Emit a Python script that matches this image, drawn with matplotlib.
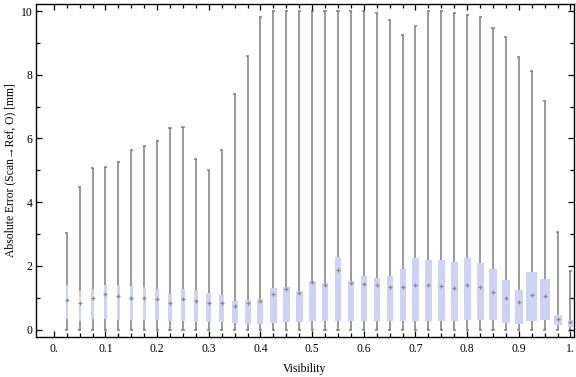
"""Box-whisker chart of absolute error versus visibility."""

import matplotlib
matplotlib.use("Agg")
import matplotlib.pyplot as plt
import numpy as np

# visibility bins (box centres)
visibility = [0.025 * k for k in range(1, 41)]

# whisker ends (clipped at 10 mm in the original chart)
whisker_low = [0.0] * 40
whisker_high = [
    3.03, 4.47, 5.07, 5.10, 5.26, 5.63, 5.75, 5.92, 6.33, 6.36,
    5.35, 5.00, 5.65, 7.39, 8.58, 9.80, 10.0, 10.0, 10.0, 10.0,
    10.0, 10.0, 10.0, 10.0, 9.93, 9.71, 9.24, 9.52, 10.0, 10.0,
    9.95, 9.86, 9.80, 9.46, 9.17, 8.55, 8.11, 7.17, 3.06, 1.84,
]
q1 = [
    0.35, 0.26, 0.35, 0.33, 0.29, 0.29, 0.29, 0.32, 0.26, 0.26,
    0.23, 0.23, 0.23, 0.20, 0.17, 0.17, 0.20, 0.23, 0.23, 0.26,
    0.26, 0.26, 0.26, 0.26, 0.26, 0.26, 0.26, 0.26, 0.26, 0.26,
    0.26, 0.32, 0.32, 0.29, 0.20, 0.17, 0.26, 0.32, 0.14, 0.07,
]
median = [
    0.93, 0.84, 0.99, 1.13, 1.05, 0.99, 0.99, 0.95, 0.84, 0.95,
    0.91, 0.85, 0.85, 0.75, 0.84, 0.89, 1.12, 1.27, 1.15, 1.49,
    1.41, 1.86, 1.45, 1.42, 1.40, 1.34, 1.34, 1.39, 1.40, 1.36,
    1.32, 1.41, 1.34, 1.18, 1.00, 0.87, 1.09, 1.07, 0.35, 0.23,
]
q3 = [
    1.41, 1.20, 1.29, 1.41, 1.41, 1.38, 1.35, 1.29, 1.13, 1.29,
    1.25, 1.16, 1.10, 0.91, 0.94, 0.97, 1.32, 1.35, 1.22, 1.54,
    1.47, 2.29, 1.54, 1.69, 1.63, 1.69, 1.91, 2.26, 2.19, 2.19,
    2.13, 2.26, 2.10, 1.91, 1.57, 1.25, 1.82, 1.60, 0.47, 0.31,
]
# relative box widths (box width in the chart scales with the bin's sample size)
rel_width = [
    2.3, 2.0, 3.0, 3.0, 3.0, 3.0, 3.0, 4.0, 4.0, 4.0,
    4.3, 5.0, 5.0, 6.0, 6.0, 6.0, 7.0, 7.0, 7.0, 7.0,
    6.0, 6.0, 6.0, 6.0, 6.0, 6.0, 6.0, 7.0, 7.0, 7.0,
    7.0, 7.0, 7.0, 8.0, 8.0, 8.0, 11.0, 10.3, 8.0, 5.0,
]

x_ticks = [0.1 * k for k in range(11)]
x_ticklabels = ["0.", "0.1", "0.2", "0.3", "0.4", "0.5", "0.6", "0.7", "0.8", "0.9", "1."]
y_ticks = [0, 2, 4, 6, 8, 10]

plt.rcParams["font.family"] = ["Liberation Serif", "DejaVu Serif"]
plt.rcParams["font.size"] = 8.4

box_color = "#ccd3f5"
line_color = "#7f7f7f"

fig = plt.figure(figsize=(5.76, 3.77), dpi=100)
ax = fig.add_axes([36 / 576, 40 / 377, 538 / 576, 333 / 377])

x = np.array(visibility)
widths = np.array(rel_width) * 0.025 / 12.92
cap = 0.006

ax.vlines(x, whisker_low, whisker_high, color=line_color, lw=1.1, zorder=1)
ax.hlines(whisker_high, x - cap / 2, x + cap / 2, color=line_color, lw=1.1, zorder=1)
ax.hlines(whisker_low, x - cap / 2, x + cap / 2, color=line_color, lw=1.1, zorder=1)
ax.bar(x, np.array(q3) - np.array(q1), bottom=q1, width=widths,
       color=box_color, edgecolor="none", zorder=2)
ax.plot(x, median, ls="none", marker="+", ms=3.5, mew=0.9, color="#8a8a8a", zorder=3)

ax.set_xlim(-0.0344, 1.0068)
ax.set_ylim(-0.229, 10.22)

ax.set_xticks(x_ticks)
ax.set_xticklabels(x_ticklabels)
ax.set_xticks(visibility, minor=True)
ax.set_yticks(y_ticks)
ax.set_yticks(range(11), minor=True)

ax.tick_params(which="both", direction="in", top=True, right=True, width=0.9, color="black")
ax.tick_params(which="major", length=4)
ax.tick_params(which="minor", length=3)
ax.tick_params(axis="x", which="major", pad=4)
ax.tick_params(axis="y", which="major", pad=2.5)
for spine in ax.spines.values():
    spine.set_linewidth(1.0)

ax.set_xlabel("Visibility")
ax.set_ylabel("Absolute Error (Scan\u2192Ref, O) [mm]")
ax.xaxis.set_label_coords(0.5, -0.078)
ax.yaxis.set_label_coords(-0.037, 0.5)

fig.savefig("out.png", dpi=100)
plt.close(fig)
